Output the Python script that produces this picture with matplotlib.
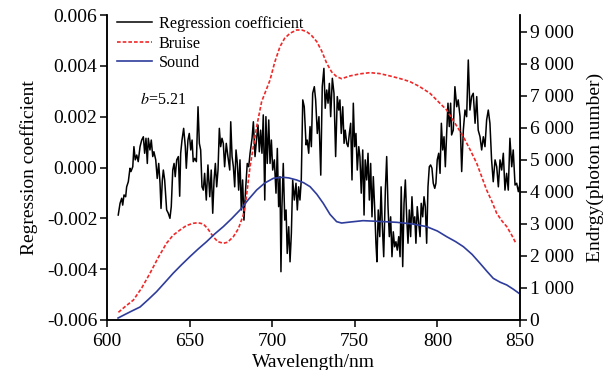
import numpy as np
import matplotlib
matplotlib.use("Agg")
import matplotlib.pyplot as plt
from matplotlib.ticker import FuncFormatter

plt.rcParams['font.family'] = ['Liberation Serif', 'DejaVu Serif']
plt.rcParams['mathtext.fontset'] = 'stix'
plt.rcParams['axes.unicode_minus'] = False

# regression coefficient (units of 1e-3)
coef_wl = [606.8, 607.9, 608.9, 609.5, 610.3, 611.3, 611.9, 612.9, 613.9, 614.5,
           615.6, 616.3, 617.1, 618.0, 618.9, 620.0, 621.0, 622.0, 622.8, 623.6,
           624.4, 625.0, 626.0, 626.8, 627.7, 628.4, 629.5, 630.4, 631.3, 632.1,
           632.7, 633.5, 634.1, 634.9, 636.1, 637.1, 638.1, 638.9, 639.8, 640.6,
           641.3, 642.2, 643.2, 644.0, 644.6, 645.4, 646.4, 647.4, 648.0, 649.0,
           649.8, 650.7, 651.5, 652.2, 653.1, 654.1, 655.1, 655.9, 656.7, 657.5,
           658.3, 659.1, 660.1, 661.1, 662.2, 663.1, 664.0, 664.8, 665.6, 666.4,
           667.2, 668.0, 668.8, 669.6, 670.4, 671.2, 672.2, 673.2, 674.3, 674.9,
           675.7, 676.5, 677.3, 678.1, 678.9, 679.7, 680.5, 681.3, 682.1, 682.9,
           684.0, 684.9, 685.8, 686.6, 687.8, 688.6, 689.6, 690.6, 691.4, 692.2,
           693.0, 693.8, 694.6, 695.5, 696.2, 697.0, 697.9, 698.7, 699.5, 700.3,
           701.3, 702.3, 703.1, 703.9, 704.7, 705.3, 705.9, 706.7, 707.6, 708.4,
           709.1, 710.0, 710.8, 711.6, 712.4, 713.4, 714.4, 715.2, 716.0, 716.8,
           717.6, 718.5, 719.4, 720.5, 721.2, 722.1, 722.9, 723.7, 724.5, 725.5,
           726.3, 727.3, 728.3, 729.4, 730.3, 731.3, 732.1, 733.0, 733.8, 734.6,
           735.4, 736.4, 737.4, 738.4, 739.4, 740.3, 741.0, 741.8, 742.7, 743.5,
           744.2, 745.1, 745.9, 746.7, 747.5, 748.3, 749.1, 749.9, 750.7, 751.5,
           752.4, 753.1, 753.9, 754.8, 755.6, 756.3, 757.2, 758.0, 758.8, 759.6,
           760.4, 761.2, 762.0, 762.8, 763.4, 764.2, 765.1, 765.9, 766.6, 767.5,
           768.5, 769.3, 770.1, 770.9, 771.7, 772.5, 773.3, 774.1, 774.9, 775.7,
           776.6, 777.4, 778.1, 779.0, 779.8, 780.6, 781.4, 782.2, 783.0, 783.8,
           784.6, 785.4, 786.3, 787.0, 787.8, 788.7, 789.5, 790.2, 791.1, 791.9,
           792.7, 793.5, 794.3, 795.1, 795.9, 796.7, 797.5, 798.4, 799.1, 799.9,
           800.8, 801.6, 802.4, 803.2, 804.0, 804.8, 805.6, 806.4, 807.2, 808.0,
           808.6, 809.6, 810.6, 811.7, 812.6, 813.7, 814.7, 815.7, 816.7, 817.7,
           818.7, 819.7, 820.7, 821.7, 822.8, 823.8, 824.7, 825.8, 826.8, 827.8,
           828.8, 829.8, 830.8, 831.8, 832.8, 833.8, 834.9, 835.9, 836.9, 837.9,
           838.9, 839.9, 840.9, 841.9, 842.9, 843.9, 845.0, 845.9, 847.0, 848.0,
           849.0, 850.0]
coef_e3 = [-1.87, -1.41, -1.21, -1.48, -1.08, -1.15, -0.76, -0.56, -0.03, -0.16,
           0.03, 0.82, 0.30, 0.49, 0.23, 0.82, 1.08, 1.21, 0.56, 1.15,
           0.16, 1.15, 0.69, 1.08, 0.43, 0.62, 0.30, -0.43, 0.16, -0.62,
           -1.61, -0.49, -0.10, -0.49, -1.67, -1.80, -2.00, -1.54, -0.10, 0.16,
           -0.36, 0.30, 0.43, -1.13, 0.56, 1.08, 1.54, 0.82, -0.03, 1.08,
           1.34, 0.69, 1.08, 0.23, 0.36, 0.23, 2.39, 0.95, 0.69, -0.76,
           -0.89, -0.23, -1.28, 0.10, -1.15, -0.10, -1.80, -0.49, 0.16, -0.76,
           -0.10, 1.54, 0.82, 1.15, 0.95, 0.03, 0.95, 0.43, -0.10, 1.80,
           0.43, 0.03, -0.76, 0.69, 0.16, -0.89, 0.30, -1.67, -0.49, -2.07,
           -0.76, 0.16, 0.03, 0.56, 1.15, 1.80, 0.43, 1.15, 1.67, 0.62,
           1.47, 0.56, 2.07, -1.28, 2.00, 0.16, 1.87, 0.16, 1.08, -0.10,
           0.30, -1.01, 0.75, -1.54, -0.36, -4.10, -1.54, 0.16, -2.07, -1.67,
           -3.38, -2.33, -3.71, -2.59, -0.49, -1.28, -0.62, -1.67, -0.76, -1.28,
           -0.49, 2.66, 2.39, 0.89, 1.08, 0.56, 1.61, 0.82, 2.92, 3.18,
           2.66, 1.34, 2.00, -0.30, 3.18, 3.90, 2.33, 3.05, 2.53, 3.31,
           2.00, 3.51, 2.92, 0.43, 2.79, 2.26, 2.66, 1.34, 2.39, 0.95,
           1.47, 0.95, 0.82, 1.34, 1.74, -0.49, 2.53, 0.82, 1.34, -0.10,
           0.82, 0.43, -1.01, 0.69, -1.87, 0.30, -0.49, 0.56, -1.28, 0.16,
           -1.94, -0.36, -1.54, -2.98, -3.71, -1.67, -2.72, -0.76, -2.20, -3.51,
           -0.89, 0.43, -1.54, -2.72, -1.94, -3.51, -2.53, -3.12, -2.92, -3.25,
           -2.72, -3.51, -0.76, -3.90, -1.41, -0.49, -1.94, -2.98, -1.67, -2.72,
           -1.15, -2.20, -1.94, -2.98, -1.54, -2.20, -2.72, -1.41, -1.94, -1.15,
           -1.54, -2.98, -0.76, 0.03, 0.10, -0.03, -0.62, -0.82, -0.62, 0.30,
           0.56, -0.23, 1.74, 0.69, 1.21, 0.03, 1.34, 2.53, 1.61, 2.53,
           1.28, 1.47, 3.18, 2.39, 2.66, 2.00, -0.16, 1.47, 2.26, 2.00,
           4.23, 2.26, 2.79, 2.92, 1.74, 2.79, 1.47, 1.21, 0.69, 1.21,
           0.82, 1.87, 2.26, 1.74, 0.30, -0.56, 0.30, 0.03, -0.76, 0.30,
           -0.10, 0.56, -0.89, -0.23, -0.89, 1.15, 0.03, 0.69, -0.69, -0.62,
           -0.95, -0.62]

# bruise spectrum (photon number)
bruise_wl = [606.9, 611, 616, 621, 626, 631, 636, 640, 644.2, 648, 652.2, 655,
             658.3, 661, 664.3, 667, 670.4, 673, 676.5, 679.5, 682.5, 684.1,
             686.6, 690.6, 693.6, 698.7, 701.5, 704.7, 707.5, 710.8, 714.8, 718,
             720.9, 724, 727, 730, 733, 736, 739, 742, 747, 753, 759.2, 765,
             771.3, 777, 783.4, 789, 795.5, 800, 805.6, 810, 815.7, 820, 823.8,
             826.8, 829.8, 833, 835.9, 839, 842, 845, 847.5]
bruise = [240, 420, 625, 1000, 1458, 1950, 2396, 2650, 2812, 2950, 3021, 3040,
          3000, 2850, 2604, 2450, 2396, 2430, 2604, 2850, 3281, 3750,
          4792, 6042, 6822, 7500, 8050, 8541, 8800, 8959, 9062, 9060,
          9010, 8880, 8697, 8400, 8021, 7750, 7604, 7540, 7625, 7690, 7729, 7700,
          7625, 7550, 7448, 7300, 7084, 6850, 6562, 6200, 5729, 5300, 4896,
          4480, 4062, 3700, 3333, 3100, 2917, 2650, 2400]

# sound spectrum (photon number)
sound_wl = [606.7, 610, 615, 620, 625, 630, 635, 640, 645, 650.2, 655, 660.3,
            665, 670.4, 675.5, 680.5, 685.5, 690.6, 695.5, 700.7, 704, 706.7,
            710, 714.8, 719, 722.9, 727, 730.9, 735, 739, 742, 747, 755, 765,
            775.4, 785, 793.5, 800, 805.6, 811, 815.7, 821, 825.8, 830, 833.8,
            838, 842, 846, 850]
sound = [62, 150, 280, 406, 640, 885, 1170, 1458, 1720, 1980, 2210, 2448,
         2680, 2917, 3170, 3437, 3760, 4062, 4280, 4427, 4450, 4458,
         4440, 4375, 4290, 4167, 3930, 3646, 3300, 3073, 3030, 3060, 3104, 3080,
         3052, 3000, 2917, 2780, 2604, 2450, 2292, 2050, 1771, 1520, 1302,
         1180, 1094, 960, 812]

x_ticks = [600, 650, 700, 750, 800, 850]
left_ticks = [-0.006, -0.004, -0.002, 0.000, 0.002, 0.004, 0.006]
right_ticks = [0, 1000, 2000, 3000, 4000, 5000, 6000, 7000, 8000, 9000]

fig = plt.figure(figsize=(6.09, 3.70), dpi=100)
ax = fig.add_axes([107 / 609, 1 - 320 / 370, 413 / 609, 305 / 370])
ax2 = ax.twinx()

l1, = ax.plot(coef_wl, np.array(coef_e3) * 1e-3, color='black', lw=1.1)
l2, = ax2.plot(bruise_wl, bruise, color='#f02828', lw=1.2, ls=(0, (2.2, 1.2)))
l3, = ax2.plot(sound_wl, sound, color='#2e3c9c', lw=1.2)

ax.set_xlim(600, 850)
ax.set_ylim(-0.006, 0.006)
ax2.set_ylim(0, 9530)
ax.set_xticks(x_ticks)
ax.set_yticks(left_ticks)
ax.set_yticklabels([f"{v:.3f}" for v in left_ticks])
ax2.set_yticks(right_ticks)
ax2.yaxis.set_major_formatter(FuncFormatter(lambda v, p: f"{int(v):,}".replace(",", " ")))

for a in (ax, ax2):
    a.spines['top'].set_visible(False)
    for s in a.spines.values():
        s.set_linewidth(1.1)
    a.tick_params(direction='out', length=5, width=1.1, labelsize=14, pad=2)
ax.tick_params(axis='x', pad=4)

ax.set_xlabel("Wavelength/nm", fontsize=14, labelpad=3)
ax.set_ylabel("Regression coefficient", fontsize=14, labelpad=6)
ax2.set_ylabel("Endrgy(photon number)", fontsize=14, labelpad=9)

fig.text(140 / 609, 1 - 100 / 370, r"$b$=5.21", fontsize=11.5, va='center')

fig.legend([l1, l2, l3], ["Regression coefficient", "Bruise", "Sound"],
           loc='upper left', bbox_to_anchor=(117 / 609, 1 - 16 / 370),
           frameon=False, fontsize=11.6, handlelength=2.2, handletextpad=0.4,
           borderpad=0, borderaxespad=0, labelspacing=0.22)

fig.savefig("out.png", dpi=100)
